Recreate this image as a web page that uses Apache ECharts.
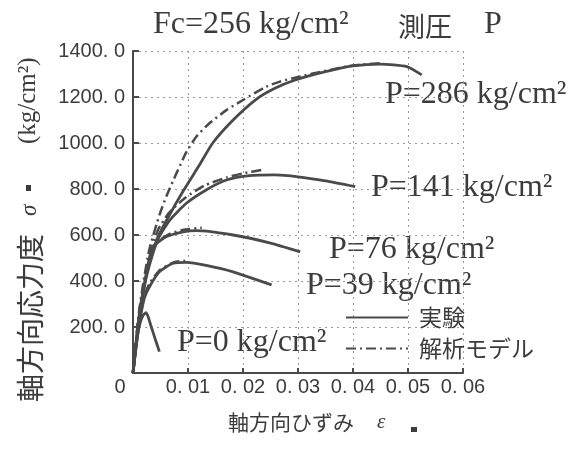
<!DOCTYPE html>
<html>
<head>
<meta charset="utf-8">
<script src="https://cdn.jsdelivr.net/npm/echarts@6/dist/echarts.min.js"></script>
<style>
html,body{margin:0;padding:0;background:#fff;}
#c{width:573px;height:450px;}
</style>
</head>
<body>
<div id="c"></div>
<script>
// ---- data (strain ε, axial stress σ in kg/cm²) ----
const xTicks = [0, 0.01, 0.02, 0.03, 0.04, 0.05, 0.06];
const yTicks = [0, 200, 400, 600, 800, 1000, 1200, 1400];

const expP0   = [[0,0],[0.0006,130],[0.0012,210],[0.0018,250],[0.0024,262],[0.0032,210],[0.004,150],[0.0048,93]];
const expP39  = [[0,0],[0.001,190],[0.002,320],[0.003,375],[0.0048,440],[0.0073,477],[0.0097,481],[0.0133,468],[0.0182,440],[0.0252,383]];
const expP76  = [[0,0],[0.001,210],[0.002,370],[0.0028,480],[0.0036,549],[0.0061,593],[0.0091,614],[0.0115,619],[0.0182,600],[0.025,565],[0.0304,527]];
const expP141 = [[0,0],[0.001,220],[0.002,370],[0.003,470],[0.0045,580],[0.0067,665],[0.0097,738],[0.0133,796],[0.017,839],[0.0212,858],[0.0258,861],[0.03,853],[0.035,835],[0.0404,810]];
const expP286 = [[0,0],[0.001,230],[0.002,380],[0.003,480],[0.0045,590],[0.0067,690],[0.0091,790],[0.0121,905],[0.0145,1000],[0.0182,1100],[0.0224,1190],[0.0258,1238],[0.0295,1274],[0.035,1310],[0.04,1335],[0.045,1343],[0.0498,1332],[0.0525,1296]];

const modP39  = [[0,0],[0.001,200],[0.002,330],[0.003,390],[0.005,450],[0.0075,482],[0.0095,488]];
const modP76  = [[0,0],[0.001,220],[0.002,380],[0.003,500],[0.0045,570],[0.0065,603],[0.009,622],[0.0125,632]];
const modP141 = [[0,0],[0.001,240],[0.002,400],[0.003,510],[0.0045,620],[0.0065,695],[0.0095,762],[0.013,815],[0.017,850],[0.02,868],[0.0234,883]];
const modP286 = [[0,0],[0.001,250],[0.002,410],[0.003,540],[0.00485,690],[0.0061,770],[0.0079,868],[0.0097,960],[0.0115,1027],[0.0139,1086],[0.017,1143],[0.02,1187],[0.0242,1245],[0.0267,1267],[0.03,1287],[0.035,1314],[0.04,1337],[0.045,1347]];

const expName = '実験';
const modName = '解析モデル';

const INK = '#4a4a4a';
const TXT = '#3c3c3c';
const SERIF = "'Liberation Serif', 'DejaVu Serif', serif";
const SANS = "'Liberation Sans', 'DejaVu Sans', sans-serif";
const CJK = "'Noto Sans CJK JP', 'Noto Sans CJK SC', sans-serif";

function expSeries(d){
  return {type:'line', name:expName, data:d, symbol:'none', showSymbol:false, smooth:0.2,
    lineStyle:{color:INK, width:2.8, type:'solid'}, itemStyle:{color:INK}, z:3};
}
function modSeries(d){
  return {type:'line', name:modName, data:d, symbol:'none', showSymbol:false, smooth:0.2,
    lineStyle:{color:INK, width:2.5, type:[10,4,2,4]}, itemStyle:{color:INK}, z:2};
}

const chart = echarts.init(document.getElementById('c'), null, {renderer:'canvas'});

function fmtX(v){ return v === 0 ? '{z|0}' : v.toFixed(2).replace('.', '. '); }
function fmtY(v){ return v === 0 ? '' : v.toFixed(1).replace('.', '. '); }

const option = {
  backgroundColor:'#fff',
  animation:false,
  grid:{left:133, right:110, top:51, bottom:77},
  xAxis:{
    type:'value', min:xTicks[0], max:xTicks[xTicks.length-1], interval:0.01,
    axisLine:{show:true, onZero:false, lineStyle:{color:INK, width:2}},
    axisTick:{show:true, inside:true, length:5, lineStyle:{color:INK, width:2}},
    splitLine:{show:true, lineStyle:{color:'#9a9a9a', width:1, type:[2,4]}},
    axisLabel:{formatter:fmtX, color:TXT, fontFamily:SANS, fontSize:20, margin:4,
      rich:{z:{fontFamily:SANS, fontSize:20, color:TXT, padding:[0,26,0,0]}}}
  },
  yAxis:{
    type:'value', min:yTicks[0], max:yTicks[yTicks.length-1], interval:200,
    axisLine:{show:true, onZero:false, lineStyle:{color:INK, width:2}},
    axisTick:{show:true, inside:true, length:6, lineStyle:{color:INK, width:2}},
    splitLine:{show:true, lineStyle:{color:'#9a9a9a', width:1, type:[2,4]}},
    axisLabel:{formatter:fmtY, color:TXT, fontFamily:SANS, fontSize:20, margin:8}
  },
  legend:{
    data:[expName, modName], orient:'vertical', left:340, top:301,
    itemWidth:62, itemHeight:14, itemGap:8,
    itemStyle:{opacity:0, borderWidth:0},
    textStyle:{fontFamily:CJK, fontSize:23, color:TXT, padding:[0,0,0,6]}
  },
  series:[
    modSeries(modP39), modSeries(modP76), modSeries(modP141), modSeries(modP286),
    expSeries(expP0), expSeries(expP39), expSeries(expP76), expSeries(expP141), expSeries(expP286)
  ],
  graphic:[
    {type:'text', left:153, top:9, style:{text:'Fc=256 kg/cm²', font:'32px '+SERIF, fill:TXT}},
    {type:'text', left:398, top:13, style:{text:'測圧', font:'27px '+CJK, fill:TXT}},
    {type:'text', left:484, top:9, style:{text:'P', font:'32px '+SERIF, fill:TXT}},

    {type:'text', left:385, top:79, style:{text:'P=286 kg/cm²', font:'32px '+SERIF, fill:TXT}},
    {type:'text', left:371, top:172, style:{text:'P=141 kg/cm²', font:'32px '+SERIF, fill:TXT}},
    {type:'text', left:329, top:234, style:{text:'P=76 kg/cm²', font:'32px '+SERIF, fill:TXT}},
    {type:'text', left:306, top:270, style:{text:'P=39 kg/cm²', font:'32px '+SERIF, fill:TXT}},
    {type:'text', left:177, top:327, style:{text:'P=0 kg/cm²', font:'32px '+SERIF, fill:TXT}},

    {type:'text', left:228, top:412, style:{text:'軸方向ひずみ', font:'21px '+CJK, fill:TXT}},
    {type:'text', left:377, top:412, style:{text:'ε', font:'italic 21px '+SERIF, fill:TXT}},
    {type:'rect', shape:{x:411, y:427, width:6, height:5}, style:{fill:TXT}},

    {type:'text', x:16, y:402, rotation:Math.PI/2, style:{text:'軸方向応力度', font:'28px '+CJK, fill:TXT, textVerticalAlign:'top'}},
    {type:'text', x:18, y:216, rotation:Math.PI/2, style:{text:'σ', font:'italic 23px '+SERIF, fill:TXT, textVerticalAlign:'top'}},
    {type:'rect', shape:{x:26, y:185, width:5, height:6}, style:{fill:TXT}},
    {type:'text', x:16, y:144, rotation:Math.PI/2, style:{text:'(kg/cm²)', font:'25px '+SERIF, fill:TXT, textVerticalAlign:'top'}}
  ]
};
chart.setOption(option);
</script>
</body>
</html>
